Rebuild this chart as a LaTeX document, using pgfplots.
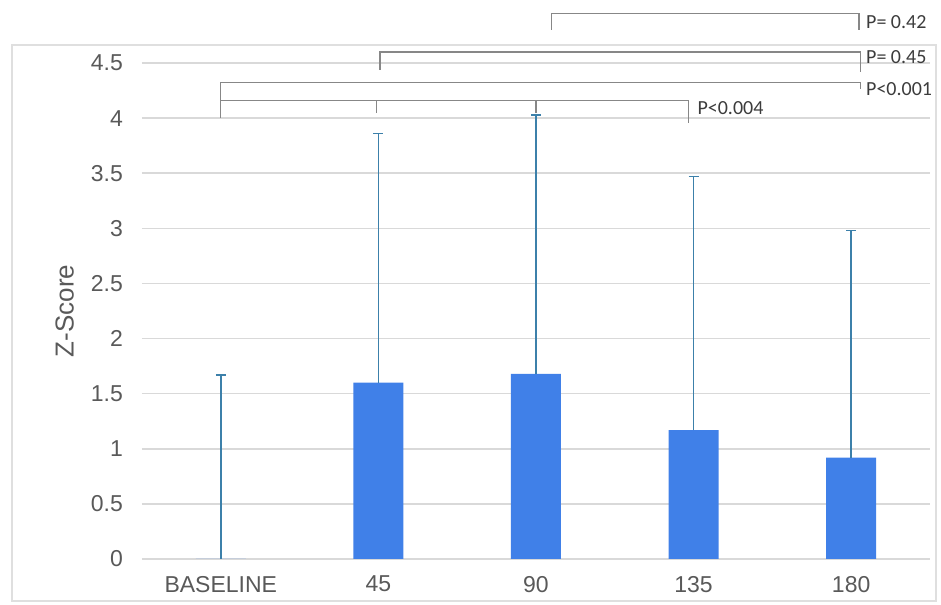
\documentclass[border=0pt]{standalone}
\usepackage{fontspec}
\setmainfont{Liberation Sans}
\newfontfamily\pfont{Carlito}
\usepackage{pgfplots}
\pgfplotsset{compat=1.18}
\definecolor{barblue}{RGB}{64,128,232}
\definecolor{errblue}{RGB}{60,128,170}
\definecolor{gridgray}{RGB}{217,217,217}
\definecolor{txtgray}{RGB}{89,89,89}
\definecolor{brgray}{RGB}{135,135,135}
\definecolor{ptxt}{RGB}{60,60,60}
\pgfplotstableread{
x y e
0 0    1.67
1 1.60 2.26
2 1.68 2.35
3 1.17 2.30
4 0.92 2.06
}\zdata
\begin{document}
\begin{tikzpicture}
\begin{axis}[
  scale only axis, width=394pt, height=248pt,
  xmin=-0.5, xmax=4.5, ymin=0, ymax=4.5,
  axis line style={draw=none},
  tick style={draw=none},
  xtick={0,1,2,3,4}, xticklabels={BASELINE,45,90,135,180},
  ytick={0,0.5,1,1.5,2,2.5,3,3.5,4,4.5},
  ymajorgrids, grid style={gridgray, line width=0.8pt},
  /pgf/number format/assume math mode=true,
  ticklabel style={font=\fontsize{11.5}{13}\selectfont, text=txtgray},
  yticklabel style={xshift=-6pt},
  xticklabel style={yshift=-5pt},
  ylabel={Z-Score},
  every axis y label/.style={at={(rel axis cs:-0.098,0.5)}, rotate=90, anchor=center, font=\fontsize{13}{15}\selectfont, text=txtgray},
  clip=false,
]
\path (rel axis cs:-0.1802,1.127) rectangle (rel axis cs:1.014,-0.0927);
\draw[gray!25, line width=0.6pt] (rel axis cs:-0.165,1.0363) rectangle (rel axis cs:1.0076,-0.0847);
\addplot[ybar, bar width=25pt, fill=barblue, draw=none,
  error bars/.cd, y dir=plus, y explicit,
  error bar style={errblue, line width=0.8pt},
  error mark options={errblue, rotate=90, mark size=2.5pt, line width=0.8pt}]
  table[x=x, y=y, y error=e] {\zdata};
% brackets
\addplot[brgray, line width=0.6pt, mark=none] coordinates {(2.10,4.80) (2.10,4.946) (4.05,4.946) (4.05,4.80)};
\addplot[brgray, line width=0.6pt, mark=none] coordinates {(1.01,4.44) (1.01,4.60) (4.06,4.60) (4.06,4.42)};
\addplot[brgray, line width=0.6pt, mark=none] coordinates {(0,4.165) (0,4.32) (4.06,4.32) (4.06,4.26)};
\addplot[brgray, line width=0.6pt, mark=none] coordinates {(0,4.0) (0,4.156) (2.97,4.156) (2.97,3.96)};
\addplot[brgray, line width=0.6pt, mark=none] coordinates {(0.99,4.156) (0.99,4.05)};
\addplot[brgray, line width=0.6pt, mark=none] coordinates {(2.0,4.156) (2.0,4.05)};
\node[anchor=west, text=ptxt, font=\pfont\fontsize{10}{12}\selectfont, inner sep=1pt] at (axis cs:4.08,4.87) {P= 0.42};
\node[anchor=west, text=ptxt, font=\pfont\fontsize{10}{12}\selectfont, inner sep=1pt] at (axis cs:4.08,4.555) {P= 0.45};
\node[anchor=west, text=ptxt, font=\pfont\fontsize{10}{12}\selectfont, inner sep=1pt] at (axis cs:4.08,4.26) {P<0.001};
\node[anchor=west, text=ptxt, font=\pfont\fontsize{10}{12}\selectfont, inner sep=1pt] at (axis cs:3.01,4.09) {P<0.004};
\end{axis}
\end{tikzpicture}
\end{document}
